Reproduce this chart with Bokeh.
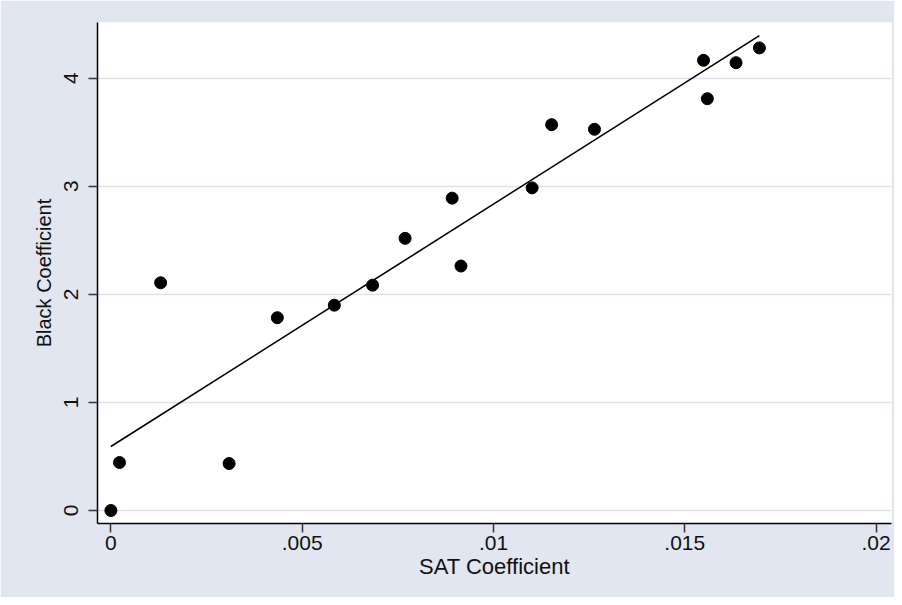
from bokeh.plotting import figure
from bokeh.models import FixedTicker, Range1d
from bokeh.embed import file_html
from bokeh.resources import INLINE

# Data
sat_coef = [0.0, 0.000225, 0.0013, 0.00309, 0.00435, 0.00584, 0.00684, 0.00769,
            0.00892, 0.00915, 0.01101, 0.01152, 0.01264, 0.01549, 0.01559,
            0.01634, 0.01695]
black_coef = [0.0, 0.444, 2.107, 0.435, 1.784, 1.90, 2.085, 2.518,
              2.89, 2.262, 2.985, 3.57, 3.527, 4.165, 3.81,
              4.143, 4.28]
fit_x = [0.0, 0.01695]
fit_y = [0.592, 4.394]

x_ticks = [0, 0.005, 0.01, 0.015, 0.02]
x_tick_labels = ["0", ".005", ".01", ".015", ".02"]
y_ticks = [0, 1, 2, 3, 4]
y_tick_labels = ["0", "1", "2", "3", "4"]

BG = "#E1E6F0"
GRID = "#DCE2EE"
FONT = "Liberation Sans"

p = figure(width=894, height=597, output_backend="svg", toolbar_location=None,
           x_range=Range1d(-0.00035, 0.020403), y_range=Range1d(-0.120, 4.515),
           min_border_left=97, min_border_right=3, min_border_top=22,
           min_border_bottom=74)
p.border_fill_color = BG
p.background_fill_color = "white"
p.outline_line_color = None

# grid
p.xgrid.grid_line_color = None
p.ygrid.grid_line_color = GRID
p.ygrid.grid_line_width = 1.5
p.ygrid.ticker = FixedTicker(ticks=y_ticks)

# x axis
p.xaxis.ticker = FixedTicker(ticks=x_ticks)
p.xaxis.major_label_overrides = {t: l for t, l in zip(x_ticks, x_tick_labels)}
p.xaxis.axis_label = "SAT Coefficient"
p.xaxis.axis_label_text_font = FONT
p.xaxis.axis_label_text_font_size = "22px"
p.xaxis.axis_label_text_font_style = "normal"
p.xaxis.axis_label_text_color = "#111111"
p.xaxis.axis_label_standoff = 1
p.xaxis.major_label_text_font = FONT
p.xaxis.major_label_text_font_size = "21px"
p.xaxis.major_label_text_color = "#111111"
p.xaxis.major_label_standoff = 3

# y axis
p.yaxis.ticker = FixedTicker(ticks=y_ticks)
p.yaxis.major_label_overrides = {t: l for t, l in zip(y_ticks, y_tick_labels)}
p.yaxis.axis_label = "Black Coefficient"
p.yaxis.axis_label_text_font = FONT
p.yaxis.axis_label_text_font_size = "20px"
p.yaxis.axis_label_text_font_style = "normal"
p.yaxis.axis_label_text_color = "#111111"
p.yaxis.axis_label_standoff = 7
p.yaxis.major_label_text_font = FONT
p.yaxis.major_label_text_font_size = "21px"
p.yaxis.major_label_text_color = "#111111"
p.yaxis.major_label_orientation = "vertical"
p.yaxis.major_label_standoff = 10

for ax in (p.xaxis, p.yaxis):
    ax.axis_line_color = "black"
    ax.axis_line_width = 1.5
    ax.major_tick_line_color = "#333333"
    ax.major_tick_line_width = 1.5
    ax.major_tick_out = 9
    ax.major_tick_in = 0
    ax.minor_tick_line_color = None

# fit line and points
p.line(fit_x, fit_y, line_color="black", line_width=1.6)
p.scatter(sat_coef, black_coef, size=12, fill_color="black", line_color="black")

open("out.html", "w").write(file_html(p, INLINE))
